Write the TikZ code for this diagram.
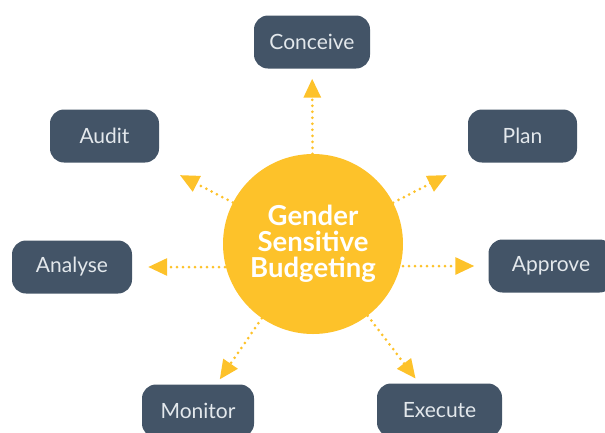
\documentclass[tikz,border=0pt]{standalone}
\usepackage{fontspec}
\setmainfont{Lato}
\usetikzlibrary{arrows.meta}
\definecolor{gsbyellow}{HTML}{FDC22A}
\definecolor{gsbslate}{HTML}{435467}
\definecolor{gsbtext}{HTML}{E3E8EC}
\begin{document}
\begin{tikzpicture}[
            x=1pt, y=-1pt,
            stage/.style={rectangle, rounded corners=14pt, fill=gsbslate, text=gsbtext,
                    minimum height=53pt, font=\fontsize{21}{21}\selectfont},
            hub/.style={circle, fill=gsbyellow, text=white, minimum size=180pt,
                    inner sep=0pt, align=center, font=\bfseries\fontsize{27.5}{26}\selectfont},
            link/.style={gsbyellow, line width=3pt, dash pattern=on 0pt off 6pt,
                    line cap=round, -{Triangle[length=19pt,width=17pt]}}
        ]
        \useasboundingbox (0,0) rectangle (605,432);
        \clip (0,0) rectangle (605,432);
        \node[hub] (gsb) at (313,244) {Gender\\Sensitive\\Budgeting};
        \node[stage, minimum width=116pt] (conceive) at (312,42) {Conceive};
        \node[stage, minimum width=109pt] (plan) at (522.5,136) {Plan};
        \node[stage, minimum width=125pt] (approve) at (551,266) {Approve};
        \node[stage, minimum width=125pt] (execute) at (439.5,410) {Execute};
        \node[stage, minimum width=112pt] (monitor) at (198,411) {Monitor};
        \node[stage, minimum width=120pt] (analyse) at (72,267) {Analyse};
        \node[stage, minimum width=109pt] (audit) at (104.5,136) {Audit};
        % diagonal and vertical links
        \foreach \stg/\gap in {conceive/10pt, plan/27pt, execute/6pt,
                monitor/6pt, audit/27pt}
            \draw[link, shorten >=\gap] (gsb) -- (\stg);
        % the two side links run level
        \draw[link, shorten >=14pt, shorten <=90pt] (gsb.center |- approve) -- (approve);
        \draw[link, shorten >=16pt, shorten <=88pt] (gsb.center |- analyse) -- (analyse);
    \end{tikzpicture}
\end{document}
